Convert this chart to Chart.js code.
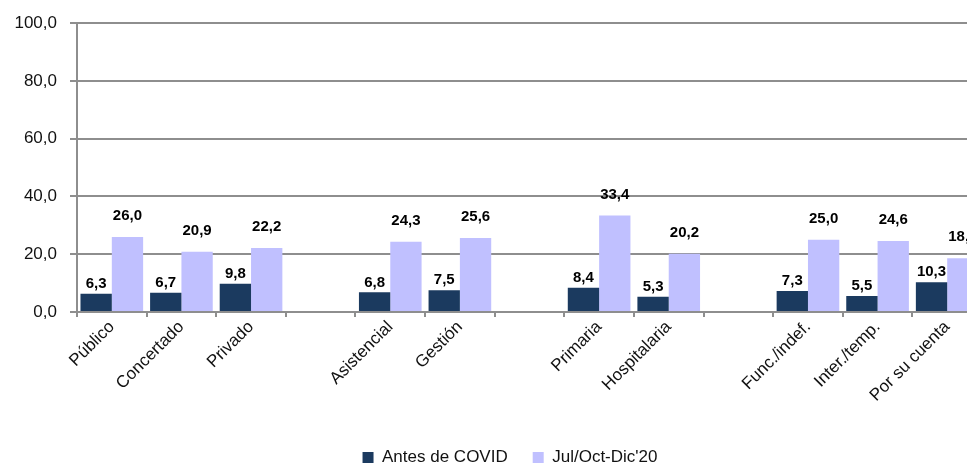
<!DOCTYPE html>
<html lang="es">
<head>
<meta charset="utf-8">
<title>Antes de COVID vs Jul/Oct-Dic'20</title>
<script src="https://cdn.jsdelivr.net/npm/chart.js@4/dist/chart.umd.min.js"></script>
<style>
    html, body { margin: 0; padding: 0; overflow: hidden; background: #fff; }
    #grafico { display: block; }
</style>
</head>
<body>
<canvas id="grafico" width="1020" height="476"></canvas>
<script>
// Categorías (las cadenas vacías son los huecos entre grupos)
const categorias = ['Público', 'Concertado', 'Privado', '', 'Asistencial', 'Gestión', '',
    'Primaria', 'Hospitalaria', '', 'Func./indef.', 'Inter./temp.', 'Por su cuenta'];
const antesCovid = [6.3, 6.7, 9.8, null, 6.8, 7.5, null, 8.4, 5.3, null, 7.3, 5.5, 10.3];
const julOctDic20 = [26.0, 20.9, 22.2, null, 24.3, 25.6, null, 33.4, 20.2, null, 25.0, 24.6, 18.6];
const ticksY = [0, 20, 40, 60, 80, 100];

const formatear = v => v.toFixed(1).replace('.', ',');
const GRIS = '#8e8e8e';
const FUENTE = '"Liberation Sans", Arial, sans-serif';

/**
 * Escribe el valor encima de cada barra.
 */
const etiquetasValor = {
    id: 'etiquetasValor',
    afterDatasetsDraw(chart) {
        const ctx = chart.ctx;
        const desplazamientos = [10, 21];
        ctx.save();
        ctx.font = 'bold 15px ' + FUENTE;
        ctx.fillStyle = '#000';
        ctx.textAlign = 'center';
        ctx.textBaseline = 'middle';
        chart.data.datasets.forEach((ds, i) => {
            const meta = chart.getDatasetMeta(i);
            meta.data.forEach((barra, j) => {
                const v = ds.data[j];
                if (v === null || v === undefined) return;
                ctx.fillText(formatear(v), barra.x, barra.y - desplazamientos[i]);
            });
        });
        ctx.restore();
    }
};

/**
 * Desplaza la leyenda un poco a la derecha, como en el original.
 */
const moverLeyenda = {
    id: 'moverLeyenda',
    afterLayout(chart) {
        if (chart.legend) {
            chart.legend.left += 19;
            chart.legend.right += 19;
        }
    }
};

new Chart(document.getElementById('grafico'), {
    type: 'bar',
    data: {
        labels: categorias,
        datasets: [
            {
                label: 'Antes de COVID',
                data: antesCovid,
                backgroundColor: '#1b3a5f',
                categoryPercentage: 0.9,
                barPercentage: 1.0
            },
            {
                label: "Jul/Oct-Dic'20",
                data: julOctDic20,
                backgroundColor: '#c0c0ff',
                categoryPercentage: 0.9,
                barPercentage: 1.0
            }
        ]
    },
    options: {
        responsive: false,
        animation: false,
        devicePixelRatio: 1,
        layout: {
            padding: { top: 23, right: 38, left: 0, bottom: 0 }
        },
        plugins: {
            tooltip: { enabled: false },
            legend: {
                position: 'bottom',
                labels: {
                    boxWidth: 11,
                    boxHeight: 11,
                    padding: 25,
                    color: '#111',
                    font: { family: FUENTE, size: 17 }
                }
            }
        },
        scales: {
            x: {
                afterFit: s => { s.height = 112; },
                grid: {
                    offset: true,
                    drawOnChartArea: false,
                    drawTicks: true,
                    tickLength: 5,
                    color: GRIS,
                    lineWidth: 2
                },
                border: { color: GRIS, width: 2 },
                ticks: {
                    autoSkip: false,
                    maxRotation: 45,
                    minRotation: 45,
                    padding: 0,
                    color: '#111',
                    font: { family: FUENTE, size: 17 }
                }
            },
            y: {
                min: 0,
                max: 100,
                afterFit: s => { s.width = 77; },
                afterBuildTicks: s => { s.ticks = ticksY.map(v => ({ value: v })); },
                grid: {
                    color: GRIS,
                    lineWidth: 2,
                    tickLength: 7
                },
                border: { color: GRIS, width: 2 },
                ticks: {
                    padding: 13,
                    color: '#111',
                    font: { family: FUENTE, size: 17 },
                    callback: v => formatear(v)
                }
            }
        }
    },
    plugins: [etiquetasValor, moverLeyenda]
});
</script>
</body>
</html>
